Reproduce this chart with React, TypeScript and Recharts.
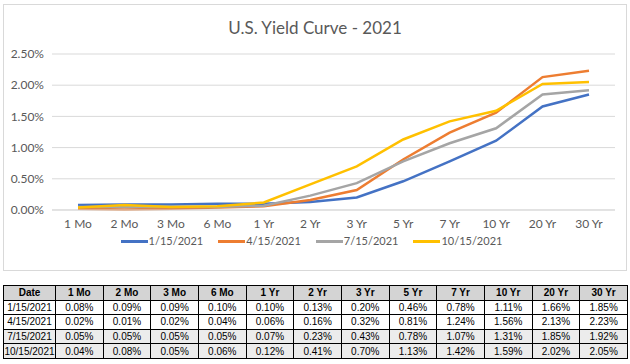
import React from "react";
import { CartesianGrid, Legend, Line, LineChart, XAxis, YAxis } from "recharts";

const maturities = ["1 Mo", "2 Mo", "3 Mo", "6 Mo", "1 Yr", "2 Yr", "3 Yr", "5 Yr", "7 Yr", "10 Yr", "20 Yr", "30 Yr"];
const dates = ["1/15/2021", "4/15/2021", "7/15/2021", "10/15/2021"];
const jan = [0.08, 0.09, 0.09, 0.1, 0.1, 0.13, 0.2, 0.46, 0.78, 1.11, 1.66, 1.85];
const apr = [0.02, 0.01, 0.02, 0.04, 0.06, 0.16, 0.32, 0.81, 1.24, 1.56, 2.13, 2.23];
const jul = [0.05, 0.05, 0.05, 0.05, 0.07, 0.23, 0.43, 0.78, 1.07, 1.31, 1.85, 1.92];
const oct = [0.04, 0.08, 0.05, 0.06, 0.12, 0.41, 0.7, 1.13, 1.42, 1.59, 2.02, 2.05];
const yTicks = [0, 0.5, 1, 1.5, 2, 2.5];

const seriesValues = [jan, apr, jul, oct];
const colors = ["#4472C4", "#ED7D31", "#A5A5A5", "#FFC000"];

const data = maturities.map((m, i) => ({
  name: m,
  s0: jan[i],
  s1: apr[i],
  s2: jul[i],
  s3: oct[i],
}));

const pct = (v: number) => v.toFixed(2) + "%";

const cell: React.CSSProperties = {
  border: "1px solid #000",
  padding: 0,
  textAlign: "center",
  height: 13.6,
};

// legend in series order, Excel style
const renderLegend = () => (
  <div style={{ display: "flex", justifyContent: "center", gap: 15, height: 14, alignItems: "center", marginLeft: 4 }}>
    {dates.map((d, i) => (
      <div key={d} style={{ display: "flex", alignItems: "center" }}>
        <span style={{ display: "inline-block", width: 27, height: 3, background: colors[i], marginRight: 1 }} />
        <span style={{ fontFamily: "Lato", fontSize: 11, lineHeight: "14px", color: "#595959" }}>{d}</span>
      </div>
    ))}
  </div>
);

export default function App() {
  return (
    <div style={{ position: "absolute", left: 0, top: 0, width: 630, height: 364, background: "#fff" }}>
      <div
        style={{
          position: "absolute",
          left: 3,
          top: 4,
          width: 624,
          height: 267,
          border: "1px solid #d9d9d9",
          boxSizing: "border-box",
        }}
      >
        <div
          style={{
            position: "absolute",
            top: 12,
            width: "100%",
            textAlign: "center",
            fontFamily: "Lato",
            fontSize: 17,
            color: "#595959",
          }}
        >
          U.S. Yield Curve - 2021
        </div>
        <LineChart width={622} height={265} data={data} margin={{ top: 49, right: 11, bottom: 22, left: 0 }}>
          <CartesianGrid vertical={false} stroke="#d9d9d9" />
          <XAxis
            dataKey="name"
            padding={{ left: 26, right: 26 }}
            axisLine={{ stroke: "#d9d9d9" }}
            tickLine={false}
            tick={{ fill: "#595959", fontSize: 12, fontFamily: "Lato" }}
            tickMargin={3}
            height={24}
          />
          <YAxis
            width={48}
            domain={[0, 2.5]}
            ticks={yTicks}
            tickFormatter={pct}
            axisLine={false}
            tickLine={false}
            tick={{ fill: "#595959", fontSize: 12, fontFamily: "Lato" }}
          />
          {dates.map((d, i) => (
            <Line
              key={d}
              name={d}
              dataKey={"s" + i}
              stroke={colors[i]}
              strokeWidth={2.5}
              dot={false}
              isAnimationActive={false}
            />
          ))}
          <Legend content={renderLegend} verticalAlign="bottom" />
        </LineChart>
      </div>
      <table
        style={{
          position: "absolute",
          left: 3,
          top: 285,
          width: 625,
          borderCollapse: "collapse",
          fontFamily: "Liberation Sans",
          fontSize: 10,
          color: "#000",
          tableLayout: "fixed",
        }}
      >
        <colgroup>
          <col style={{ width: 52 }} />
          {maturities.map((m) => (
            <col key={m} />
          ))}
        </colgroup>
        <thead>
          <tr style={{ background: "#d4d4d4", fontWeight: "bold" }}>
            <th style={cell}>Date</th>
            {maturities.map((m) => (
              <th key={m} style={cell}>
                {m}
              </th>
            ))}
          </tr>
        </thead>
        <tbody>
          {dates.map((d, r) => (
            <tr key={d} style={{ background: r >= 2 ? "#ececec" : "#fff" }}>
              <td style={cell}>{d}</td>
              {seriesValues[r].map((v, i) => (
                <td key={i} style={cell}>
                  {pct(v)}
                </td>
              ))}
            </tr>
          ))}
        </tbody>
      </table>
    </div>
  );
}
